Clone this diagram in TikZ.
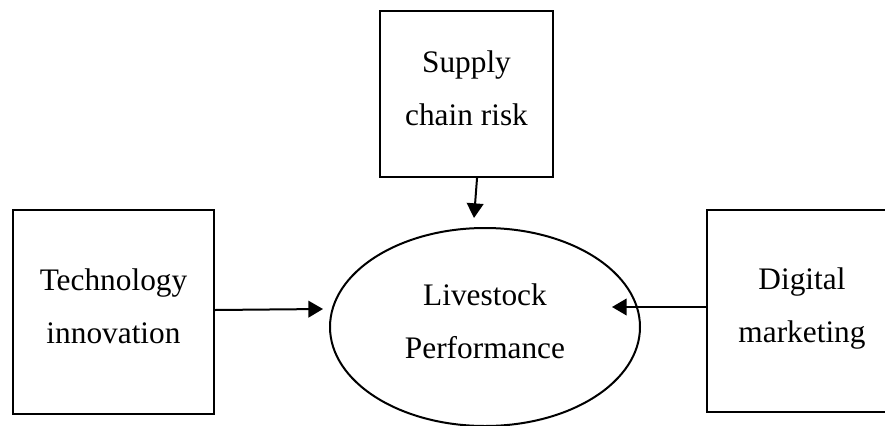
\documentclass[tikz,border=0pt]{standalone}
\usepackage{fontspec}
\setmainfont{Liberation Serif}
\usetikzlibrary{shapes.geometric, arrows.meta, positioning, calc}
\tikzset{
    box/.style={rectangle, draw=black, line width=1.5pt, align=center, inner sep=0pt, text depth=9pt, font=\fontsize{23.5}{40}\selectfont},
    oval/.style={ellipse, draw=black, line width=1.5pt, align=center, inner sep=0pt, text depth=9pt, font=\fontsize{23.5}{40}\selectfont},
    arr/.style={-{Triangle[length=11pt, width=12.5pt]}, line width=1.5pt, black}
}
\begin{document}
\begin{tikzpicture}[x=0.75pt, y=-0.75pt]
        \useasboundingbox (0,0) rectangle (885,425);
        \node[box, minimum width=173*0.75pt, minimum height=166*0.75pt] (supply) at (466.5,94) {Supply\\chain risk};
        \node[box, minimum width=201*0.75pt, minimum height=204*0.75pt] (tech) at (113.5,312) {Technology\\innovation};
        \node[box, minimum width=190*0.75pt, minimum height=202*0.75pt] (digital) at (802,311) {Digital\\marketing};
        \node[oval, minimum width=310*0.75pt, minimum height=198*0.75pt] (perf) at (485,327) {Livestock\\Performance};
        \coordinate (perftop) at (474,218);
        \coordinate (perfleft) at (323,309);
        \coordinate (perfright) at (612,307);
        \draw[arr] ([xshift=7.9pt]supply.south) -- (perftop);
        \draw[arr] (tech.east |- 0,310) -- (perfleft);
        \draw[arr] (digital.west |- perfright) -- (perfright);
    \end{tikzpicture}
\end{document}
